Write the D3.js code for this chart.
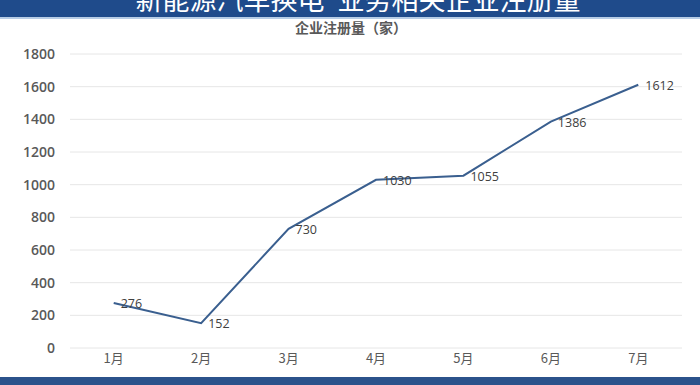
<!DOCTYPE html>
<html>
<head>
<meta charset="utf-8">
<script src="https://cdn.jsdelivr.net/npm/d3@7"></script>
<style>
  body { margin: 0; background: #fff; }
  svg { display: block; }
</style>
</head>
<body>
<svg id="canvas" width="700" height="385"></svg>
<script>
let months = ['1月', '2月', '3月', '4月', '5月', '6月', '7月']
let registrations = [276, 152, 730, 1030, 1055, 1386, 1612]
let yTicks = [0, 200, 400, 600, 800, 1000, 1200, 1400, 1600, 1800]

let titleText = '新能源汽车换电"业务相关企业注册量'
let subtitleText = '企业注册量（家）'

let width = 700
let height = 385
let canvas = d3.select('#canvas')

let cjk = '"Noto Sans CJK SC", "Noto Sans", sans-serif'
let num = '"Open Sans", "Noto Sans", sans-serif'

// banners
canvas.append('rect')
      .attr('x', 0).attr('y', 0)
      .attr('width', width).attr('height', 17)
      .attr('fill', '#1f4b8b')
canvas.append('rect')
      .attr('x', 0).attr('y', 17)
      .attr('width', width).attr('height', 2)
      .attr('fill', '#b7cde6')
canvas.append('rect')
      .attr('x', 0).attr('y', 377)
      .attr('width', width).attr('height', 8)
      .attr('fill', '#2b528b')

// title sits partly above the top edge, as in the source image
canvas.append('text')
      .text(titleText)
      .attr('x', 358)
      .attr('y', 10)
      .attr('text-anchor', 'middle')
      .attr('fill', '#ffffff')
      .style('font-family', cjk)
      .style('font-size', '27px')

canvas.append('text')
      .text(subtitleText)
      .attr('x', 351)
      .attr('y', 33)
      .attr('text-anchor', 'middle')
      .attr('fill', '#595959')
      .style('font-family', cjk)
      .style('font-weight', 'bold')
      .style('font-size', '14px')

let xScale = d3.scaleBand()
               .domain(months)
               .range([70, 682])

let yScale = d3.scaleLinear()
               .domain([0, 1800])
               .range([348, 54])

let cx = (m) => xScale(m) + xScale.bandwidth() / 2

// grid lines
canvas.append('g')
      .selectAll('line')
      .data(yTicks)
      .enter()
      .append('line')
      .attr('x1', 70)
      .attr('x2', 682)
      .attr('y1', (d) => yScale(d))
      .attr('y2', (d) => yScale(d))
      .attr('stroke', '#e6e6e6')
      .attr('stroke-width', 1)

// y axis labels
let yAxis = d3.axisLeft(yScale)
              .tickValues(yTicks)
              .tickFormat(d3.format('d'))
              .tickSize(0)
              .tickPadding(0)
let yAxisGroup = canvas.append('g')
                       .attr('transform', 'translate(55, 0)')
                       .call(yAxis)
yAxisGroup.select('.domain').remove()
yAxisGroup.selectAll('text')
          .attr('fill', '#595959')
          .style('font-family', num)
          .style('font-weight', '600')
          .style('font-size', '14px')

// x axis labels
let xAxis = d3.axisBottom(xScale).tickSize(0).tickPadding(0)
let xAxisGroup = canvas.append('g')
                       .attr('transform', 'translate(0, 354)')
                       .call(xAxis)
xAxisGroup.select('.domain').remove()
xAxisGroup.selectAll('text')
          .attr('fill', '#595959')
          .style('font-family', cjk)
          .style('font-size', '13px')

// line
let points = months.map((m, i) => ({ month: m, value: registrations[i] }))
let line = d3.line()
             .x((d) => cx(d.month))
             .y((d) => yScale(d.value))

canvas.append('path')
      .datum(points)
      .attr('d', line)
      .attr('fill', 'none')
      .attr('stroke', '#3a5f8f')
      .attr('stroke-width', 2)

// data labels
canvas.append('g')
      .selectAll('text')
      .data(points)
      .enter()
      .append('text')
      .text((d) => d.value)
      .attr('x', (d) => cx(d.month) + 7)
      .attr('y', (d) => yScale(d.value) + 5)
      .attr('fill', '#404040')
      .style('font-family', num)
      .style('font-size', '12.5px')
</script>
</body>
</html>
